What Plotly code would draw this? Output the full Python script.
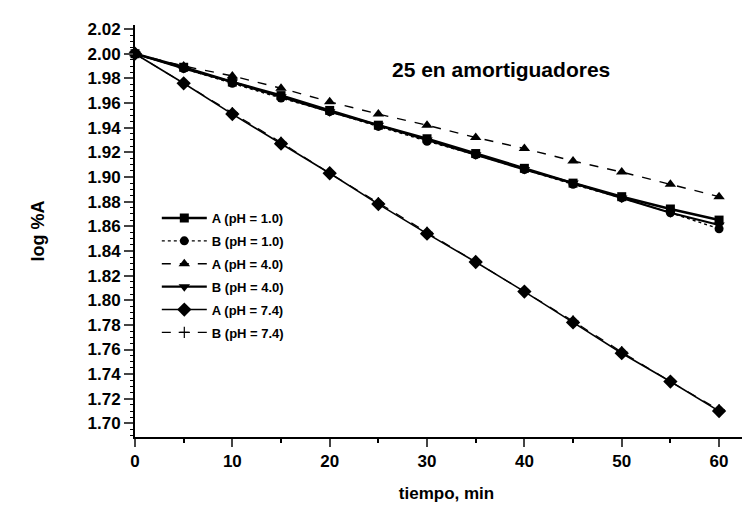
import plotly.graph_objects as go

time_min = [0, 5, 10, 15, 20, 25, 30, 35, 40, 45, 50, 55, 60]
a_ph10 = [2.000, 1.989, 1.977, 1.966, 1.954, 1.942, 1.931, 1.919, 1.907, 1.895, 1.884, 1.874, 1.865]
b_ph10 = [2.000, 1.988, 1.976, 1.964, 1.953, 1.941, 1.929, 1.918, 1.906, 1.894, 1.883, 1.871, 1.858]
a_ph40 = [2.000, 1.990, 1.982, 1.972, 1.961, 1.951, 1.942, 1.932, 1.923, 1.913, 1.904, 1.894, 1.884]
b_ph40 = [2.000, 1.988, 1.977, 1.965, 1.953, 1.942, 1.930, 1.918, 1.906, 1.895, 1.883, 1.871, 1.861]
a_ph74 = [2.000, 1.976, 1.951, 1.927, 1.903, 1.878, 1.854, 1.831, 1.807, 1.782, 1.757, 1.734, 1.710]
b_ph74 = [2.000, 1.976, 1.952, 1.928, 1.903, 1.879, 1.855, 1.831, 1.807, 1.783, 1.758, 1.734, 1.711]

names = ["A (pH = 1.0)", "B (pH = 1.0)", "A (pH = 4.0)", "B (pH = 4.0)", "A (pH = 7.4)", "B (pH = 7.4)"]
y_ticks = [1.70, 1.72, 1.74, 1.76, 1.78, 1.80, 1.82, 1.84, 1.86, 1.88, 1.90, 1.92, 1.94, 1.96, 1.98, 2.00, 2.02]
x_ticks = [0, 10, 20, 30, 40, 50, 60]

series = [a_ph10, b_ph10, a_ph40, b_ph40, a_ph74, b_ph74]
styles = [
    dict(symbol="square", dash="solid", width=2.6, size=9),
    dict(symbol="circle", dash="dot", width=1.4, size=9),
    dict(symbol="triangle-up", dash="dash", width=1.4, size=10),
    dict(symbol="triangle-down", dash="solid", width=2.2, size=10),
    dict(symbol="diamond", dash="solid", width=1.6, size=11),
    dict(symbol="cross-thin", dash="dash", width=1.2, size=8),
]

fig = go.Figure()
for i, (name, ys, st) in enumerate(zip(names, series, styles)):
    fig.add_trace(go.Scatter(
        x=time_min, y=ys, name=name, mode="lines+markers",
        legendgroup=f"g{i}",
        line=dict(color="black", width=st["width"], dash=st["dash"]),
        marker=dict(symbol=st["symbol"], size=st["size"], color="black",
                    line=dict(color="black", width=1.2 if st["symbol"] == "cross-thin" else 0)),
        cliponaxis=False,
    ))

font_family = "Liberation Sans, Arial, sans-serif"

fig.update_layout(
    width=750, height=509,
    margin=dict(l=127, r=0, t=17, b=80),
    plot_bgcolor="white", paper_bgcolor="white",
    font=dict(family=font_family, color="black", size=15, weight="bold"),
    showlegend=True,
    legend=dict(x=0.035, y=0.568, xanchor="left", yanchor="top",
                bgcolor="rgba(0,0,0,0)", font=dict(size=13, weight="bold"),
                tracegroupgap=3, itemwidth=45),
    xaxis=dict(range=[0, 64], tickvals=x_ticks, ticks="outside", ticklen=8, tickwidth=2,
               showline=True, linecolor="black", linewidth=2, showgrid=False, zeroline=False,
               tickfont=dict(size=17, weight="bold"),
               minor=dict(dtick=5, ticks="outside", ticklen=4, tickwidth=1.5, tickcolor="black"),
               title=dict(text="tiempo, min", font=dict(size=17, weight="bold"), standoff=17)),
    yaxis=dict(range=[1.689, 2.0233], tickvals=y_ticks, ticktext=[f"{v:.2f}" for v in y_ticks],
               ticks="outside", ticklen=9, tickwidth=2,
               showline=True, linecolor="black", linewidth=2, showgrid=False, zeroline=False,
               tickfont=dict(size=17, weight="bold"),
               minor=dict(dtick=0.005, tick0=1.70, ticks="outside", ticklen=3, tickwidth=1, tickcolor="black"),
               title=dict(text="log %A", font=dict(size=18, weight="bold"), standoff=38)),
    annotations=[dict(text="25 en amortiguadores", x=0.587, y=0.891, xref="paper", yref="paper",
                      xanchor="center", yanchor="middle", showarrow=False,
                      font=dict(size=21, weight="bold", family=font_family))],
)

fig.write_html("out.html")
